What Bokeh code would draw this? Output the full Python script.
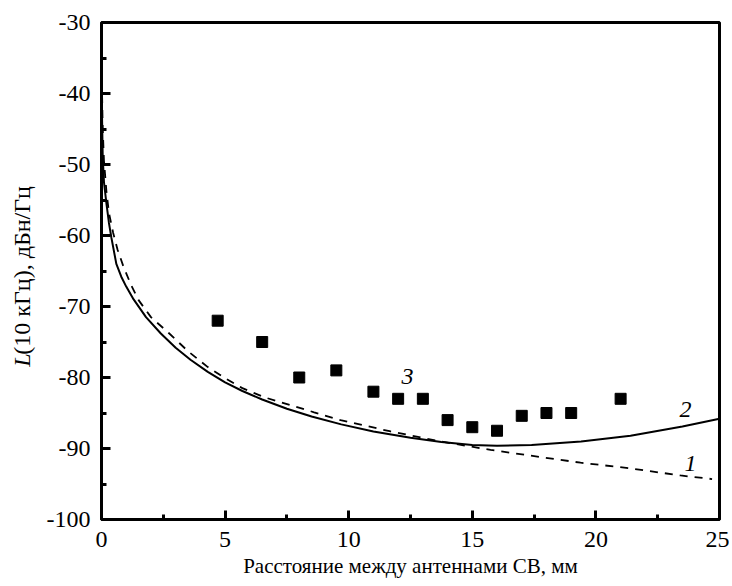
import math
from bokeh.plotting import figure
from bokeh.layouts import row
from bokeh.models import FixedTicker, Label, Range1d
from bokeh.core.properties import value
from bokeh.embed import file_html
from bokeh.resources import INLINE

# --- data -------------------------------------------------------------
meas_x = [4.7, 6.5, 8.0, 9.5, 11.0, 12.0, 13.0, 14.0, 15.0, 16.0, 17.0, 18.0, 19.0, 21.0]
meas_y = [-72.0, -75.0, -80.0, -79.0, -82.0, -83.0, -83.0, -86.0, -87.0, -87.5, -85.4, -85.0, -85.0, -83.0]

curve1_x = [0.0, 0.05, 0.1, 0.2, 0.3, 0.47, 0.65, 0.89, 1.2, 1.5, 2.0, 2.71, 3.5, 4.29, 5.0, 5.7, 6.6,
            7.65, 8.6, 9.67, 11.7, 13.7, 15.74, 17.35, 19.38, 21.4, 23.42, 24.7]
curve1_y = [-36.0, -45.0, -49.5, -53.8, -56.8, -59.6, -62.0, -64.4, -67.0, -69.1, -71.5, -73.7, -76.3, -78.5,
            -80.1, -81.5, -82.8, -83.9, -84.9, -86.0, -87.6, -89.0, -90.2, -91.0, -92.0, -92.8, -93.8, -94.3]

curve2_x = [0.0, 0.02, 0.05, 0.1, 0.2, 0.3, 0.4, 0.6, 0.8, 1.0, 1.3, 1.8, 2.4, 3.0, 3.6, 4.3, 5.0, 5.7,
            6.5, 7.5, 8.5, 9.7, 11.0, 12.5, 13.75, 15.0, 16.0, 17.4, 19.4, 21.4, 23.5, 25.0]
curve2_y = [-34.0, -43.0, -49.0, -52.5, -55.5, -58.2, -60.3, -64.0, -65.8, -67.2, -69.0, -71.5, -73.8, -75.8,
            -77.5, -79.2, -80.7, -81.9, -83.1, -84.4, -85.5, -86.6, -87.6, -88.5, -89.1, -89.5, -89.6, -89.5,
            -89.0, -88.2, -86.9, -85.8]

x_ticks = [0, 5, 10, 15, 20, 25]
x_tick_labels = ["0", "5", "10", "15", "20", "25"]
x_minor = [2.5, 7.5, 12.5, 17.5, 22.5]
y_ticks = [-100, -90, -80, -70, -60, -50, -40, -30]
y_tick_labels = ["-100", "-90", "-80", "-70", "-60", "-50", "-40", "-30"]
y_minor = [-95, -85, -75, -65, -55, -45, -35]

x_title = "Расстояние между антеннами СВ, мм"
y_title_italic = "L"
y_title_rest = "(10 кГц), дБн/Гц"
curve_label_text = ["1", "2", "3"]
curve_label_x = [23.83, 23.62, 12.38]
curve_label_y = [-92.1, -84.5, -79.9]

FONT = "Liberation Serif"
FS = "24px"
TITLE_FS = "21px"
YTITLE_FS = "24px"

H = 577
LEFT_W = 40

# --- y title panel ----------------------------------------------------
t = figure(width=LEFT_W, height=H, output_backend="svg", toolbar_location=None,
           x_range=Range1d(0, LEFT_W), y_range=Range1d(0, H),
           x_axis_type=None, y_axis_type=None,
           min_border_left=0, min_border_right=0, min_border_top=0, min_border_bottom=0)
t.grid.visible = False
t.outline_line_color = None
t.text(x=[21], y=[H - 402], text=[y_title_italic], angle=math.pi / 2,
       text_font=value(FONT), text_font_size=YTITLE_FS, text_font_style="italic",
       text_align="left", text_baseline="middle", text_color="black")
t.text(x=[21], y=[H - 388], text=[y_title_rest], angle=math.pi / 2,
       text_font=value(FONT), text_font_size=YTITLE_FS,
       text_align="left", text_baseline="middle", text_color="black")

# --- main plot --------------------------------------------------------
p = figure(frame_width=618, frame_height=497, output_backend="svg", toolbar_location=None,
           x_range=Range1d(0, 25), y_range=Range1d(-100, -30),
           min_border_left=101 - LEFT_W, min_border_right=10, min_border_top=22, min_border_bottom=58)
p.grid.visible = False
p.background_fill_color = "white"
p.outline_line_color = "black"
p.outline_line_width = 3
p.outline_line_alpha = 1

p.line(curve1_x, curve1_y, line_color="black", line_width=1.8, line_dash="8 7")
p.line(curve2_x, curve2_y, line_color="black", line_width=2)
p.scatter(meas_x, meas_y, marker="square", size=11, fill_color="black", line_color="black")

p.xaxis.ticker = FixedTicker(ticks=x_ticks, minor_ticks=x_minor)
p.yaxis.ticker = FixedTicker(ticks=y_ticks, minor_ticks=y_minor)
p.xaxis.major_label_overrides = {tk: lb for tk, lb in zip(x_ticks, x_tick_labels)}
p.yaxis.major_label_overrides = {tk: lb for tk, lb in zip(y_ticks, y_tick_labels)}

for ax in (p.xaxis[0], p.yaxis[0]):
    ax.axis_line_width = 3
    ax.axis_line_color = "black"
    ax.major_tick_in = 9
    ax.major_tick_out = 0
    ax.minor_tick_in = 5
    ax.minor_tick_out = 0
    ax.major_tick_line_width = 3
    ax.minor_tick_line_width = 3
    ax.major_label_text_font = FONT
    ax.major_label_text_font_size = FS
    ax.major_label_text_color = "black"

p.xaxis.major_label_standoff = 12
p.yaxis.major_label_standoff = 11
p.xaxis.axis_label = x_title
p.xaxis.axis_label_text_font = FONT
p.xaxis.axis_label_text_font_size = TITLE_FS
p.xaxis.axis_label_text_font_style = "normal"
p.xaxis.axis_label_standoff = 4
p.xaxis.axis_label_text_color = "black"

for txt, lx, ly in zip(curve_label_text, curve_label_x, curve_label_y):
    p.add_layout(Label(x=lx, y=ly, text=txt, text_font=FONT, text_font_size=FS, text_color="black",
                       text_font_style="italic", text_align="center", text_baseline="middle"))

layout = row(t, p)
open("out.html", "w").write(file_html(layout, INLINE))
